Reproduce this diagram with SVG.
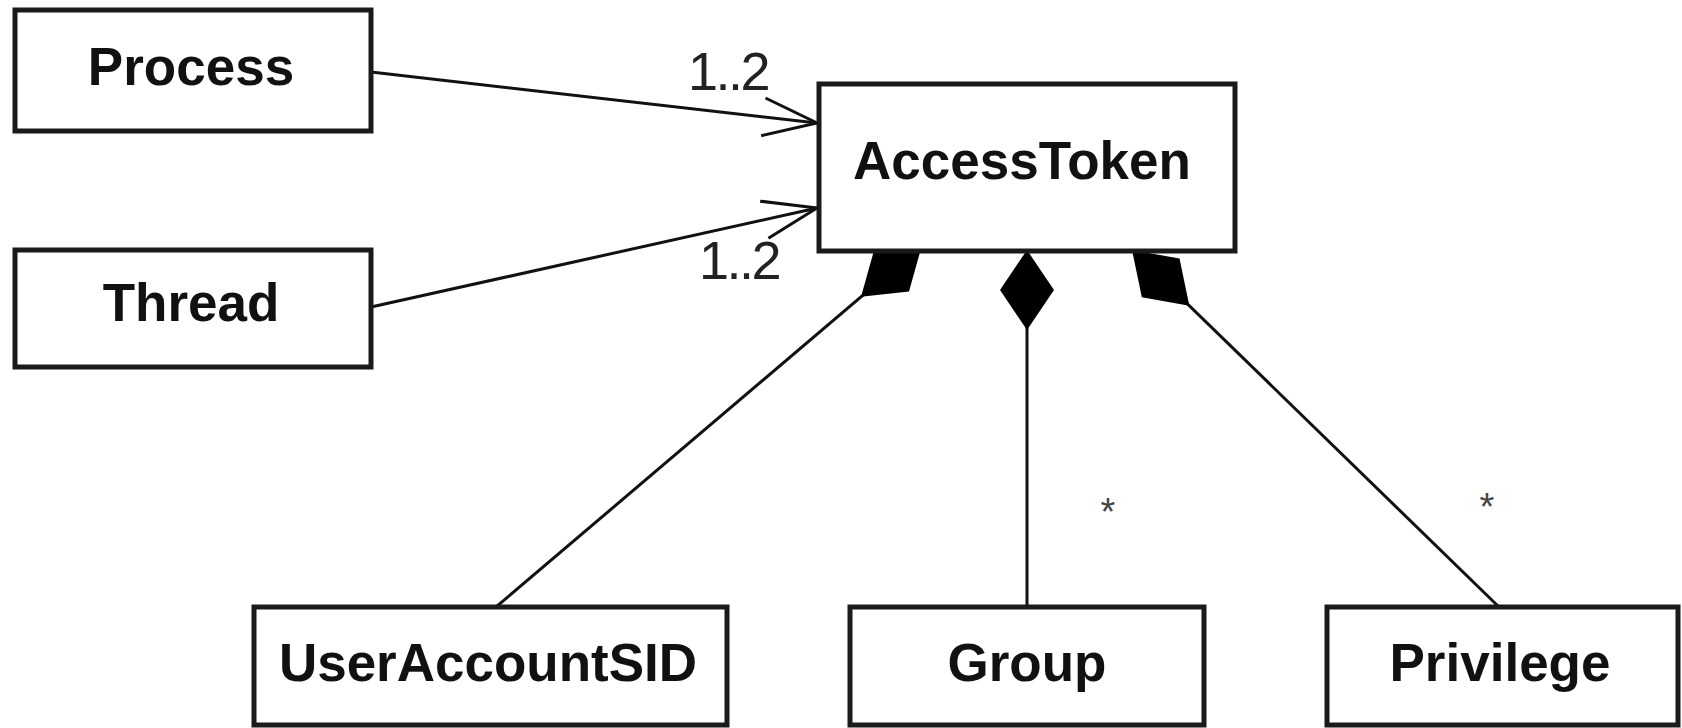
<svg xmlns="http://www.w3.org/2000/svg" width="1682" height="728" viewBox="0 0 1682 728">
<style>
.box{fill:#fff;stroke:#1a1a1a;stroke-width:5}
.lbl{font-family:"Liberation Sans",Arial,sans-serif;font-weight:bold;font-size:53px;fill:#111;text-anchor:middle}
.mult{font-family:"Liberation Sans",Arial,sans-serif;font-size:54px;fill:#222;letter-spacing:-2.5px}
.star{font-family:"Liberation Sans",Arial,sans-serif;font-size:38px;fill:#444;text-anchor:middle}
.conn{fill:none;stroke:#111;stroke-width:3}
</style>
<defs>
<marker id="open" markerUnits="userSpaceOnUse" viewBox="-60 -30 70 60" refX="0" refY="0" markerWidth="70" markerHeight="60" orient="auto" overflow="visible">
<path d="M-54,-19 L0,0 L-54,19" fill="none" stroke="#111" stroke-width="3"/>
</marker>
<marker id="diamond" markerUnits="userSpaceOnUse" viewBox="-5 -35 95 70" refX="0" refY="0" markerWidth="95" markerHeight="70" orient="auto" overflow="visible">
<path d="M0,0 L40,-27 L80,0 L40,27 Z" fill="#000" stroke="none"/>
</marker>
</defs>
<rect width="1682" height="728" fill="#fff"/>
<g id="connectors">
<path class="conn" d="M371,72 L817,123" marker-end="url(#open)"/>
<path class="conn" d="M371,307 L817,208" marker-end="url(#open)"/>
<path class="conn" d="M922,245 L496,607" marker-start="url(#diamond)"/>
<path class="conn" d="M1027,250 L1027,607" marker-start="url(#diamond)"/>
<path class="conn" d="M1132,250 L1499,607" marker-start="url(#diamond)"/>
<text class="mult" x="688" y="90">1..2</text>
<text class="mult" x="699" y="279">1..2</text>
<text class="star" x="1108" y="525">*</text>
<text class="star" x="1487" y="520">*</text>
</g>
<g id="process">
<rect class="box" x="15" y="10" width="356" height="121"/>
<text class="lbl" x="191" y="85">Process</text>
</g>
<g id="thread">
<rect class="box" x="15" y="250" width="356" height="117"/>
<text class="lbl" x="191" y="321">Thread</text>
</g>
<g id="accesstoken">
<rect class="box" x="819" y="84" width="416" height="167"/>
<text class="lbl" x="1022" y="179">AccessToken</text>
</g>
<g id="useraccountsid">
<rect class="box" x="254" y="607" width="473" height="118"/>
<text class="lbl" x="488" y="681">UserAccountSID</text>
</g>
<g id="group">
<rect class="box" x="850" y="607" width="354" height="118"/>
<text class="lbl" x="1027" y="681">Group</text>
</g>
<g id="privilege">
<rect class="box" x="1327" y="607" width="351" height="118"/>
<text class="lbl" x="1500" y="681">Privilege</text>
</g>
</svg>
